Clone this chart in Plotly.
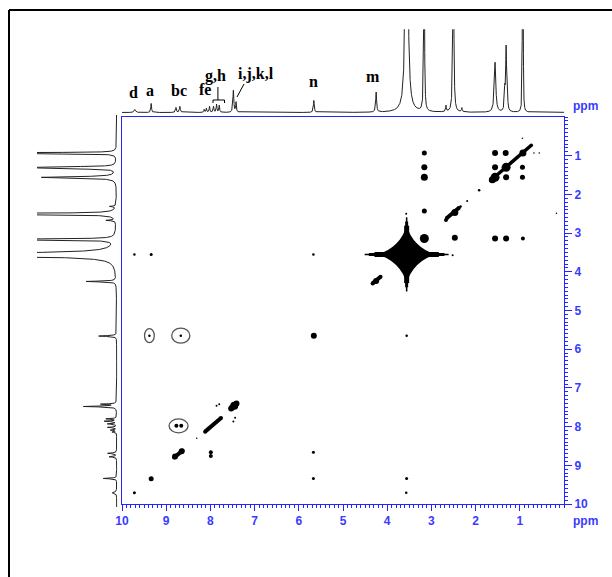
import numpy as np
import plotly.graph_objects as go

W, H = 612, 577

# ---------------- 1D 1H spectrum (projection) : peak table ----------------
peak_ppm    = [9.71, 9.34, 8.78, 8.69, 8.14, 8.09, 8.02, 7.93, 7.86, 7.80, 7.48, 7.42,
               5.66, 4.25, 3.56, 3.165, 2.67, 2.504, 2.31, 1.56, 1.34, 1.31, 1.285, 0.94, 0.925]
peak_height = [3, 9, 5, 6, 3, 4, 6, 6, 8, 7, 22, 10,
               12, 20, 450, 250, 6, 250, 4, 50, 20, 62, 22, 120, 120]
peak_hwhm   = [0.02, 0.01, 0.012, 0.012, 0.01, 0.01, 0.01, 0.01, 0.01, 0.01, 0.012, 0.01,
               0.012, 0.012, 0.022, 0.008, 0.01, 0.01, 0.01, 0.02, 0.01, 0.012, 0.01, 0.006, 0.006]

# peak assignment labels on the 1D trace
label_text = ["d", "a", "bc", "fe", "g,h", "i,j,k,l", "n", "m"]
label_ppm  = [9.73, 9.37, 8.72, 8.13, 7.88, 6.96, 5.67, 4.32]

# ---------------- 2D COSY cross / diagonal peaks ----------------
cp_x = [3.16, 3.16, 3.16, 1.56, 1.32, 0.93, 1.56, 1.31, 0.94, 0.94, 1.56, 1.31, 1.62,
        3.16, 2.47, 3.16, 1.56, 1.31, 0.93, 2.47, 2.67, 4.25,
        1.92, 2.19, 2.34, 0.94, 0.56, 0.68, 0.17, 3.57, 2.52,
        7.46, 8.80, 8.65, 7.99, 7.99, 9.34, 9.72, 5.66,
        9.38, 8.67, 8.77, 8.66, 9.72, 9.34, 5.67, 3.56, 5.67, 5.67, 3.56, 3.57,
        8.31, 7.86, 7.80, 7.44, 7.48]
cp_y = [0.93, 1.30, 1.56, 0.93, 0.93, 0.93, 1.30, 1.56, 1.30, 1.56, 1.56, 1.30, 1.62,
        2.43, 3.12, 3.14, 3.14, 3.14, 3.14, 2.47, 2.66, 4.24,
        1.89, 2.17, 2.31, 0.55, 0.93, 0.93, 2.49, 2.50, 3.57,
        7.46, 8.77, 8.64, 8.66, 8.76, 9.35, 9.71, 5.65,
        5.65, 5.65, 7.98, 7.98, 3.55, 3.55, 3.55, 5.65, 8.66, 9.34, 9.34, 9.71,
        8.30, 7.46, 7.42, 7.77, 7.87]
cp_size = [5, 6, 7, 6, 6, 7, 6, 6, 5, 5, 9, 9, 7,
           5, 6, 9, 6, 6, 4, 7, 4, 6,
           2.5, 2, 2.5, 1.5, 1.5, 1.5, 1.5, 2, 2,
           8, 6, 6, 4, 4, 5, 3, 6,
           2.5, 2.5, 4, 4, 2.5, 3, 2.5, 2.5, 3, 3, 3, 2.5,
           1.5, 2, 2, 2, 2]

# elongated diagonal ridges (start ppm, end ppm, thickness)
ridge_x0 = [1.66, 2.65, 4.33, 7.53, 8.12, 8.82]
ridge_y0 = [1.64, 2.61, 4.30, 7.53, 8.13, 8.80]
ridge_x1 = [0.74, 2.38, 4.15, 7.41, 7.76, 8.63]
ridge_y1 = [0.73, 2.35, 4.13, 7.40, 7.78, 8.62]
ridge_w  = [3.5, 4, 4, 6, 4, 4]

# solvent (water) peak drawn as a star
star_x, star_y = 3.56, 3.55

# highlighted cross peaks (ellipse centre, width, height in ppm)
ring_x = [9.38, 8.67, 8.72]
ring_y = [5.65, 5.65, 7.98]
ring_w = [0.22, 0.41, 0.43]
ring_h = [0.36, 0.39, 0.36]

# axis ticks
tick_vals = [1, 2, 3, 4, 5, 6, 7, 8, 9, 10]
tick_text = [str(v) for v in tick_vals]

BLUE = "#2424ff"
BLUE_T = "#3a3aff"


def px(x):
    return x / W


def py(y):
    return 1 - y / H


ppm_grid = np.linspace(-0.2, 10.2, 6001)
spectrum = np.zeros_like(ppm_grid)
for p, h, w in zip(peak_ppm, peak_height, peak_hwhm):
    spectrum += h / (1 + ((ppm_grid - p) / w) ** 2)

fig = go.Figure()

# top projection
fig.add_trace(go.Scatter(x=ppm_grid, y=spectrum, mode="lines", xaxis="x2", yaxis="y2",
                         line=dict(color="#222222", width=1), hoverinfo="skip"))
# left projection
fig.add_trace(go.Scatter(x=spectrum, y=ppm_grid, mode="lines", xaxis="x3", yaxis="y3",
                         line=dict(color="#222222", width=1), hoverinfo="skip"))

# ridges
for x0, y0, x1, y1, w in zip(ridge_x0, ridge_y0, ridge_x1, ridge_y1, ridge_w):
    fig.add_trace(go.Scatter(x=[x0, x1], y=[y0, y1], mode="lines+markers",
                             line=dict(color="black", width=w),
                             marker=dict(size=w, color="black", opacity=1, line=dict(width=0)),
                             hoverinfo="skip"))

# cross peaks
fig.add_trace(go.Scatter(x=cp_x, y=cp_y, mode="markers",
                         marker=dict(size=cp_size, color="black", opacity=1,
                                     line=dict(width=0))))

# water star: concave core plus tapering arms
fig.add_trace(go.Scatter(x=[star_x], y=[star_y], mode="markers",
                         marker=dict(symbol="star-diamond", size=42, color="black",
                                     opacity=1, line=dict(width=0))))
for length, width in [(60, 1.5), (54, 3), (46, 5)]:
    fig.add_trace(go.Scatter(x=[star_x], y=[star_y], mode="markers",
                             marker=dict(symbol="line-ew", size=length, color="black", opacity=1,
                                         line=dict(width=width, color="black"))))
for length, width in [(53, 1.5), (47, 3), (41, 5)]:
    fig.add_trace(go.Scatter(x=[star_x], y=[star_y], mode="markers",
                             marker=dict(symbol="line-ns", size=length, color="black", opacity=1,
                                         line=dict(width=width, color="black"))))

shapes = []
for cx, cy, rw, rh in zip(ring_x, ring_y, ring_w, ring_h):
    shapes.append(dict(type="circle", xref="x", yref="y",
                       x0=cx - rw / 2, x1=cx + rw / 2, y0=cy - rh / 2, y1=cy + rh / 2,
                       line=dict(color="#555555", width=1.3)))

# outer frame
shapes.append(dict(type="line", xref="paper", yref="paper", x0=px(9), x1=px(9),
                   y0=py(10), y1=0, line=dict(color="black", width=2)))
shapes.append(dict(type="line", xref="paper", yref="paper", x0=px(9), x1=1,
                   y0=py(10), y1=py(10), line=dict(color="black", width=2)))

# g,h bracket and i,j,k,l pointer
shapes.append(dict(type="line", xref="x2", yref="paper", x0=7.83, x1=7.83,
                   y0=py(87), y1=py(100), line=dict(color="black", width=1)))
shapes.append(dict(type="path", xref="paper", yref="paper",
                   path=f"M{px(213)},{py(103)} L{px(213)},{py(100)} L{px(224.5)},{py(100)} L{px(224.5)},{py(103)}",
                   line=dict(color="black", width=1)))
shapes.append(dict(type="line", xref="paper", yref="paper", x0=px(244), x1=px(237),
                   y0=py(84), y1=py(97), line=dict(color="black", width=1)))

annotations = []
label_base = [99.5, 98, 98, 96.5, 83.5, 82, 89, 83.5]
for t, xp, yb in zip(label_text, label_ppm, label_base):
    annotations.append(dict(text=t, x=xp, xref="x2", y=py(yb + 3.5), yref="paper",
                            xanchor="center", yanchor="bottom", showarrow=False,
                            font=dict(family="Liberation Serif", size=16, color="black",
                                      weight="bold")))
annotations.append(dict(text="ppm", x=px(585), y=py(521), xref="paper", yref="paper",
                        showarrow=False, xanchor="center", yanchor="middle",
                        font=dict(family="Liberation Sans", size=12, color=BLUE_T, weight="bold")))
annotations.append(dict(text="ppm", x=px(585), y=py(106), xref="paper", yref="paper",
                        showarrow=False, xanchor="center", yanchor="middle",
                        font=dict(family="Liberation Sans", size=12, color=BLUE_T, weight="bold")))

xd = [px(122), px(564)]
yd = [py(504), py(117)]

fig.update_layout(
    width=W, height=H, margin=dict(l=0, r=0, t=0, b=0, autoexpand=False),
    paper_bgcolor="white", plot_bgcolor="white", showlegend=False,
    shapes=shapes, annotations=annotations, hovermode=False,
    xaxis=dict(domain=xd, range=[10, 0], anchor="y", showgrid=False, zeroline=False,
               automargin=False,
               showline=True, linecolor=BLUE, linewidth=1, mirror=True,
               ticks="outside", ticklen=6, tickcolor=BLUE, tickwidth=1,
               tickmode="array", tickvals=tick_vals, ticktext=tick_text,
               tickfont=dict(family="Liberation Sans", size=12, color=BLUE_T, weight="bold"),
               minor=dict(dtick=0.1, tick0=0, ticks="outside", ticklen=3, tickcolor=BLUE,
                          tickwidth=1, showgrid=False)),
    yaxis=dict(domain=yd, range=[10, 0], anchor="x", side="right", showgrid=False,
               zeroline=False, automargin=False,
               showline=True, linecolor=BLUE, linewidth=1, mirror=True,
               ticks="outside", ticklen=7, tickcolor=BLUE, tickwidth=1,
               tickmode="array", tickvals=tick_vals, ticktext=tick_text,
               tickfont=dict(family="Liberation Sans", size=12, color=BLUE_T, weight="bold"),
               minor=dict(dtick=0.1, tick0=0, ticks="outside", ticklen=3, tickcolor=BLUE,
                          tickwidth=1, showgrid=False)),
    xaxis2=dict(domain=xd, range=[10, 0], anchor="y2", visible=False, automargin=False),
    yaxis2=dict(domain=[py(113.5), py(29.3)], range=[-1, 83.2], anchor="x2", visible=False,
                automargin=False),
    xaxis3=dict(domain=[px(37), px(117.5)], range=[53.2, -0.5], anchor="y3", visible=False,
                automargin=False),
    yaxis3=dict(domain=[py(507), py(115)], range=[10 + 3 / 38.6, -2 / 38.6], anchor="x3",
                visible=False, automargin=False),
)

fig.write_html(
    "out.html",
    config={"displayModeBar": False, "staticPlot": True},
    post_script=("document.body.style.margin='0px';"
                 "document.body.style.overflow='hidden';"
                 "document.documentElement.style.overflow='hidden';"),
)
